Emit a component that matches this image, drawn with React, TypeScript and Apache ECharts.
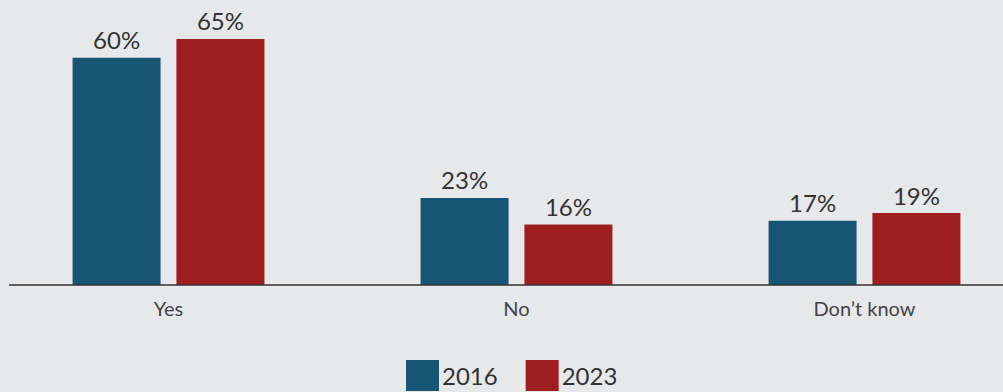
import React, { useEffect, useRef } from "react";
import * as echarts from "echarts";

const categories = ["Yes", "No", "Don\u2019t know"];
const values2016 = [60, 23, 17];
const values2023 = [65, 16, 19];
const seriesNames = ["2016", "2023"];

export default function App() {
  const ref = useRef<HTMLDivElement>(null);
  useEffect(() => {
    document.body.style.margin = "0";
    const chart = echarts.init(ref.current!, null, { renderer: "svg" });
    const font = "Lato, 'Noto Sans', sans-serif";
    const label = {
      show: true,
      position: "top" as const,
      distance: 6,
      formatter: "{c}%",
      fontSize: 24,
      color: "#333333",
      fontFamily: font,
    };
    chart.setOption({
      animation: false,
      backgroundColor: "#e7e8ea",
      grid: {
        left: -5.5,
        width: 1044,
        top: 20,
        height: 265,
        containLabel: false,
        outerBoundsMode: "none",
      },
      xAxis: {
        type: "category",
        data: categories,
        axisLine: { show: false },
        axisTick: { show: false },
        axisLabel: { fontSize: 20, color: "#444444", fontFamily: font, margin: 13 },
      },
      yAxis: { type: "value", min: 0, max: 70, show: false, splitLine: { show: false } },
      legend: {
        left: 406,
        top: 360,
        padding: 0,
        itemWidth: 33,
        itemHeight: 31,
        itemGap: 28,
        icon: "rect",
        textStyle: {
          fontSize: 24,
          lineHeight: 24,
          color: "#333333",
          fontFamily: font,
          padding: [0, 0, 0, -2],
        },
        data: seriesNames,
      },
      series: [
        {
          name: seriesNames[0],
          type: "bar",
          data: values2016,
          barWidth: 88,
          barGap: "18%",
          itemStyle: { color: "#175574" },
          label,
        },
        {
          name: seriesNames[1],
          type: "bar",
          data: values2023,
          barWidth: 88,
          itemStyle: { color: "#9e1e20" },
          label,
        },
      ],
      graphic: [
        {
          type: "line",
          shape: { x1: 9, y1: 285, x2: 1003, y2: 285 },
          style: { stroke: "#333333", lineWidth: 1.5 },
          z: 10,
        },
      ],
    });
    return () => chart.dispose();
  }, []);
  return <div ref={ref} style={{ width: 1003, height: 392 }} />;
}
